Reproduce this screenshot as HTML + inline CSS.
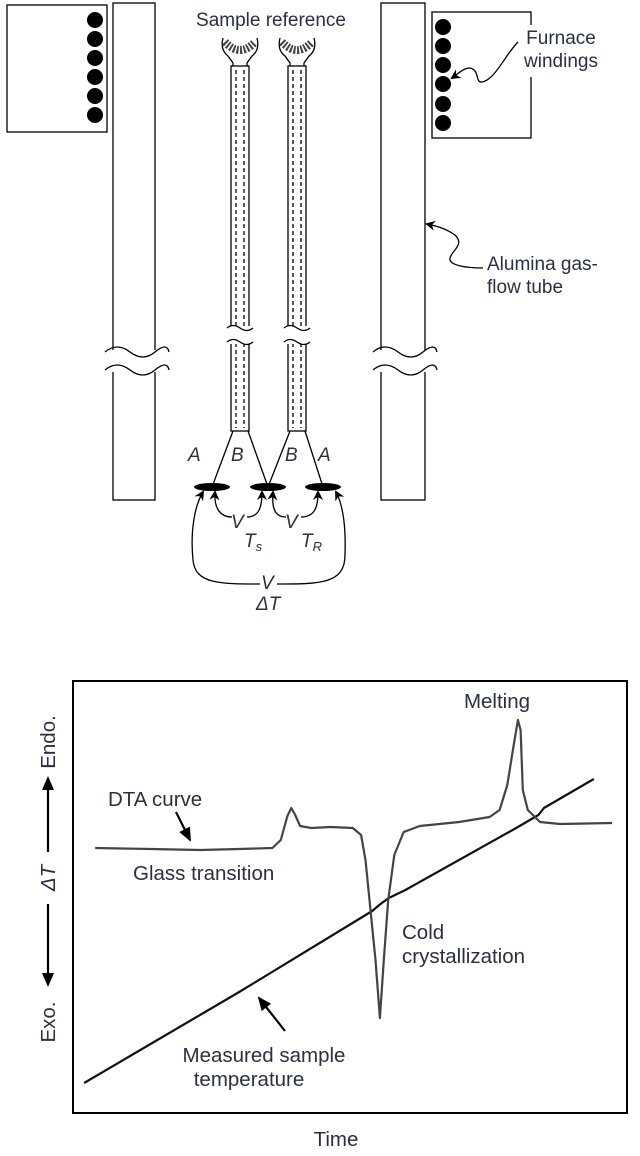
<!DOCTYPE html>
<html><head><meta charset="utf-8"><style>
html,body{margin:0;padding:0;background:#fff;}
svg{display:block;}
text{font-family:"Liberation Sans",sans-serif;fill:#2a2f45;font-size:19px;}
.c{font-size:20.5px;}
.it{font-style:italic;}
</style></head><body>
<svg width="640" height="1156" viewBox="0 0 640 1156">
<defs>
<marker id="ah" markerWidth="10" markerHeight="10" refX="8" refY="5" orient="auto" markerUnits="userSpaceOnUse"><path d="M0,0 L10,5 L0,10 L3,5 Z" fill="#000"/></marker>
<marker id="ah2" markerWidth="14" markerHeight="14" refX="12" refY="7" orient="auto" markerUnits="userSpaceOnUse"><path d="M0,1 L14,7 L0,13 Z" fill="#000"/></marker>
</defs>
<g stroke="#000" fill="none" stroke-width="1.3">
  <rect x="7" y="5" width="100" height="127"/>
  <g fill="#000" stroke="none">
    <circle cx="95" cy="20" r="8"/><circle cx="95" cy="39" r="8"/><circle cx="95" cy="58" r="8"/><circle cx="95" cy="77" r="8"/><circle cx="95" cy="96" r="8"/><circle cx="95" cy="115" r="8"/>
  </g>
  <rect x="113" y="3" width="42" height="497"/>
  <rect x="105" y="350" width="60" height="22" fill="#fff" stroke="none"/>
  <path d="M105,352 q12,-10 25,0 t25,0 t14,0 M105,370 q12,-10 25,0 t25,0 t14,0"/>
  <rect x="381" y="3" width="44" height="497"/>
  <rect x="373" y="350" width="60" height="22" fill="#fff" stroke="none"/>
  <path d="M373,352 q12,-10 25,0 t25,0 t14,0 M373,370 q12,-10 25,0 t25,0 t14,0"/>
  <rect x="432" y="12" width="99" height="126"/>
  <g fill="#000" stroke="none">
    <circle cx="443" cy="27" r="8"/><circle cx="443" cy="46" r="8"/><circle cx="443" cy="65" r="8"/><circle cx="443" cy="84" r="8"/><circle cx="443" cy="104" r="8"/><circle cx="443" cy="123" r="8"/>
  </g>
  <rect x="515" y="25" width="90" height="52" fill="#fff" stroke="none"/>
  <path d="M518,42 C505,55 495,80 482,82 C475,83 480,70 470,68 C463,68 458,74 452,78" marker-end="url(#ah)"/>
  <path d="M483,268 C465,268 448,265 450,258 C452,250 465,245 455,235 C445,228 436,226 427,224" marker-end="url(#ah)"/>
  <g>
    <path d="M223,38 q-3,12 5,18 l5,7 l0,3 M257,38 q3,12 -5,18 l-5,7 l0,3"/>
    <path d="M225,42 q15,16 30,0" stroke-dasharray="2,1.5" stroke-width="8" stroke="#444"/>
    <rect x="231" y="66" width="18" height="365"/>
    <path d="M236,70 V428 M244,70 V428" stroke-dasharray="4,3"/>
    <rect x="226" y="326" width="28" height="18" fill="#fff" stroke="none"/>
    <path d="M227,328 q6,-5 13,0 t13,0 M227,342 q6,-5 13,0 t13,0"/>
  </g>
  <g>
    <path d="M280,38 q-3,12 5,18 l5,7 l0,3 M314,38 q3,12 -5,18 l-5,7 l0,3"/>
    <path d="M282,42 q15,16 30,0" stroke-dasharray="2,1.5" stroke-width="8" stroke="#444"/>
    <rect x="288" y="66" width="18" height="365"/>
    <path d="M293,70 V428 M301,70 V428" stroke-dasharray="4,3"/>
    <rect x="283" y="326" width="28" height="18" fill="#fff" stroke="none"/>
    <path d="M284,328 q6,-5 13,0 t13,0 M284,342 q6,-5 13,0 t13,0"/>
  </g>
  <path d="M233,431 L212,487 M248,431 L268,487 M290,431 L268,487 M305,431 L323,487"/>
  <g fill="#000" stroke="none">
    <ellipse cx="212" cy="487" rx="18" ry="4"/><ellipse cx="268" cy="487" rx="18" ry="4"/><ellipse cx="323" cy="487" rx="18" ry="4"/>
  </g>
  <path d="M232,517 C218,517 214,505 215,492" marker-end="url(#ah)"/>
  <path d="M247,517 C260,517 262,505 262,492" marker-end="url(#ah)"/>
  <path d="M286,517 C273,517 272,505 273,492" marker-end="url(#ah)"/>
  <path d="M301,517 C316,517 318,505 318,492" marker-end="url(#ah)"/>
  <path d="M260,584 C220,584 195,584 193,560 C190,530 195,505 203,492" marker-end="url(#ah)"/>
  <path d="M277,584 C320,584 345,584 345,555 C346,525 343,505 336,492" marker-end="url(#ah)"/>
</g>
<text x="271" y="26" text-anchor="middle">Sample reference</text>
<text x="561" y="44" text-anchor="middle">Furnace</text>
<text x="561" y="67" text-anchor="middle">windings</text>
<text x="487" y="270">Alumina gas-</text>
<text x="487" y="293">flow tube</text>
<g>
<text class="it" x="188" y="461">A</text><text class="it" x="231" y="461">B</text>
<text class="it" x="285" y="461">B</text><text class="it" x="318" y="461">A</text>
<text class="it" x="231" y="528">V</text><text class="it" x="244" y="547">T<tspan font-size="13" dy="4">s</tspan></text>
<text class="it" x="285" y="528">V</text><text class="it" x="301" y="547">T<tspan font-size="13" dy="4">R</tspan></text>
<text class="it" x="261" y="589">V</text><text class="it" x="256" y="610">ΔT</text>
</g>
<rect x="73" y="681" width="554" height="432" fill="none" stroke="#000" stroke-width="2"/>
<g>
<text class="c" transform="translate(55,742) rotate(-90)" text-anchor="middle">Endo.</text>
<line x1="48" y1="852" x2="48" y2="778" stroke="#000" stroke-width="2.2" marker-end="url(#ah2)"/>
<text class="c it" transform="translate(55,878) rotate(-90)" text-anchor="middle">ΔT</text>
<line x1="48" y1="904" x2="48" y2="985" stroke="#000" stroke-width="2.2" marker-end="url(#ah2)"/>
<text class="c" transform="translate(55,1022) rotate(-90)" text-anchor="middle">Exo.</text>
</g>
<text class="c" x="336" y="1146" text-anchor="middle">Time</text>
<g id="plot"></g>
<text class="c" x="497" y="708" text-anchor="middle">Melting</text>
<text class="c" x="108" y="806">DTA curve</text>
<line x1="176" y1="812" x2="190" y2="840" stroke="#000" stroke-width="2.2" marker-end="url(#ah2)"/>
<text class="c" x="133" y="880">Glass transition</text>
<text class="c" x="402" y="939">Cold</text>
<text class="c" x="402" y="963">crystallization</text>
<line x1="285" y1="1031" x2="259" y2="998" stroke="#000" stroke-width="2.2" marker-end="url(#ah2)"/>
<text class="c" x="264" y="1062" text-anchor="middle">Measured sample</text>
<text class="c" x="249" y="1086" text-anchor="middle">temperature</text>
</svg>
<script>
const dtaTime = [4,14,23,30,36,37.5,38.7,39.4,40.1,41,43,46.5,50.5,52,52.8,53.7,54.6,55.4,56.1,56.9,58,59.7,62.6,69.7,75.2,77,78.4,79.4,80.3,80.8,81.2,82.1,84.3,87.9,97.3];
const dtaValue = [0,-0.5,-1,-0.5,0,4,16,20,16.5,11,10,10.5,10,6.5,-6,-31,-56,-85,-56,-26,-3.5,8,11,13,15.5,19,31.5,49,64,59,29,19,13,12,12.5];
const tempTime = [2,30,54,55.5,57,60,80,84,85,94];
const tempValue = [-117.5,-72,-31.5,-28,-25,-21,10,16.5,20,34.5];
const x = t => 73 + t * 5.54;
const y = v => 848 - v * 2;
const plot = document.getElementById('plot');
function line(ts, vs, name, color, w){
  const p = document.createElementNS('http://www.w3.org/2000/svg','path');
  let d = '';
  ts.forEach((t,i)=>{ d += (i?'L':'M') + x(t).toFixed(1) + ',' + y(vs[i]).toFixed(1); });
  p.setAttribute('d', d);
  p.setAttribute('fill','none');
  p.setAttribute('stroke', color);
  p.setAttribute('stroke-width', w);
  p.setAttribute('stroke-linejoin','round');
  
  
  plot.appendChild(p);
}
line(tempTime, tempValue, 'temperature-line', '#111', 2.2);
line(dtaTime, dtaValue, 'dta-curve', '#444', 2.2);
</script>
</body></html>
